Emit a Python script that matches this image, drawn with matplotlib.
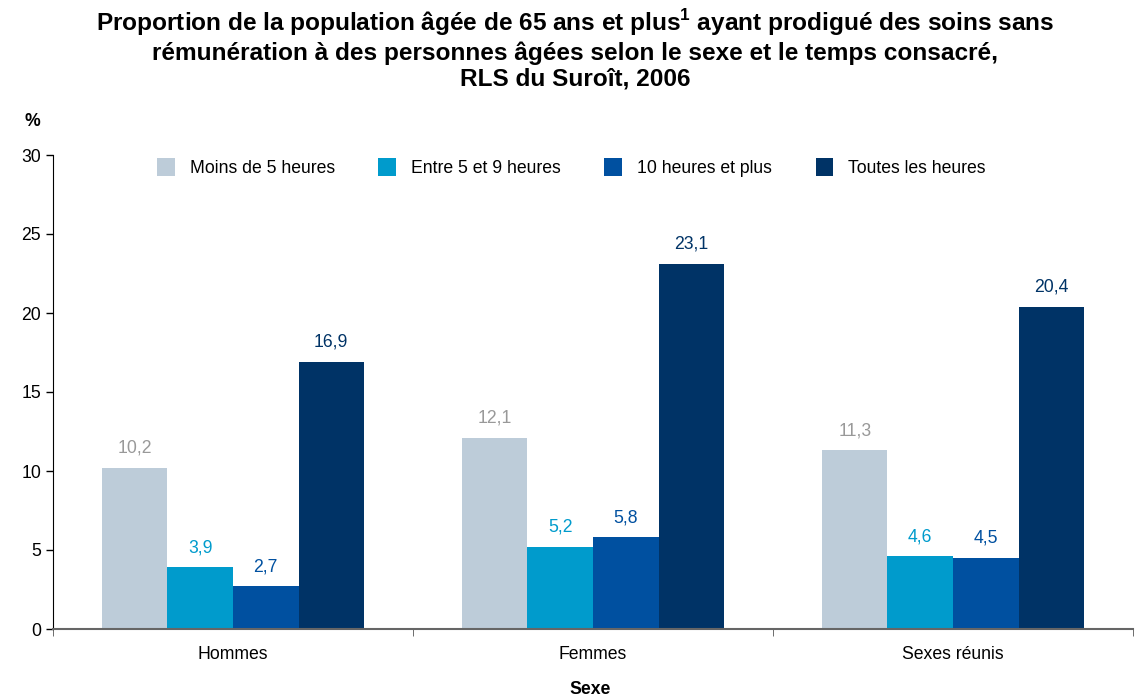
import numpy as np
import matplotlib.pyplot as plt
from matplotlib.patches import Patch

plt.rcParams['font.family'] = ['Liberation Sans', 'DejaVu Sans']
plt.rcParams['mathtext.fontset'] = 'custom'
plt.rcParams['mathtext.bf'] = 'Liberation Sans:bold'

groups = ["Hommes", "Femmes", "Sexes réunis"]
series = ["Moins de 5 heures", "Entre 5 et 9 heures", "10 heures et plus", "Toutes les heures"]
moins_5 = [10.2, 12.1, 11.3]
entre_5_9 = [3.9, 5.2, 4.6]
dix_plus = [2.7, 5.8, 4.5]
toutes = [16.9, 23.1, 20.4]
values = [moins_5, entre_5_9, dix_plus, toutes]

colors = ['#BDCCD9', '#009BCC', '#0050A0', '#003366']
label_colors = ['#999999', '#009BCC', '#0050A0', '#003366']

fs = 12.7

fig = plt.figure(figsize=(11.42, 7), dpi=100)
ax = fig.add_axes([53/1142, 71/700, 1080/1142, 474/700])

x = np.arange(len(groups))
w = 0.182
for i, (vals, c, lc) in enumerate(zip(values, colors, label_colors)):
    pos = x + (i - 1.5) * w
    ax.bar(pos, vals, width=w, color=c, zorder=2)
    for p, v in zip(pos, vals):
        ax.text(p, v + 0.7, f"{v:.1f}".replace('.', ','), ha='center', va='bottom',
                fontsize=fs, color=lc)

ax.set_xlim(-0.5, 2.5)
ax.set_ylim(0, 30)
ax.set_yticks(range(0, 31, 5))
ax.tick_params(axis='y', labelsize=fs, direction='out', length=5, width=1)
ax.set_xticks(x)
ax.set_xticklabels(groups, fontsize=fs)
ax.tick_params(axis='x', length=0, pad=12)
ax.set_xticks([-0.5, 0.5, 1.5, 2.5], minor=True)
ax.tick_params(axis='x', which='minor', length=5, direction='out', color='#555555')

ax.spines['top'].set_visible(False)
ax.spines['right'].set_visible(False)
ax.spines['bottom'].set_color('#666666')
ax.spines['bottom'].set_linewidth(1.5)

handles = [Patch(facecolor=c, edgecolor='none') for c in colors]
ax.legend(handles, series, ncol=4, loc='upper center', bbox_to_anchor=(0.48, 1.027),
          frameon=False, fontsize=fs, handlelength=1.0, handleheight=1.2,
          columnspacing=2.47, handletextpad=0.85)

fig.text(32/1142, 1 - 122/700, "%", fontsize=fs, fontweight='bold', ha='center', va='center')
fig.text(590/1142, 1 - 689/700, "Sexe", fontsize=fs, fontweight='bold', ha='center', va='center')

fig.text(575/1142, 1 - 49/700,
         "Proportion de la population âgée de 65 ans et plus$^{\\mathbf{1}}$ ayant prodigué des soins sans\n"
         "rémunération à des personnes âgées selon le sexe et le temps consacré,\n"
         "RLS du Suroît, 2006",
         fontsize=17.6, fontweight='bold', ha='center', va='center', linespacing=1.18)

fig.savefig("out.png", dpi=100)
